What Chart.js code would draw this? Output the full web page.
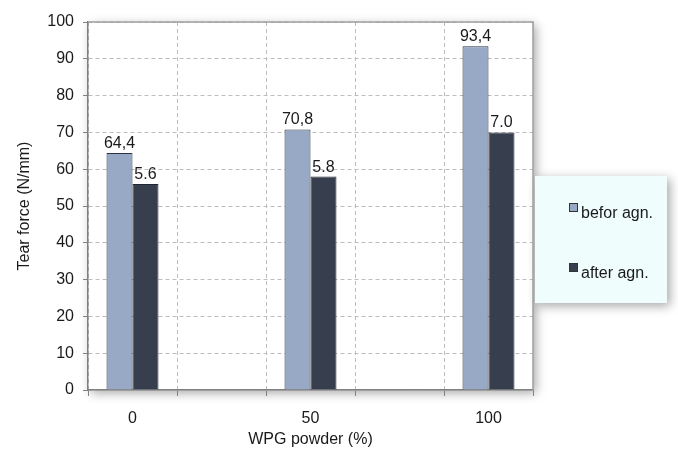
<!DOCTYPE html>
<html>
<head>
<meta charset="utf-8">
<script src="https://cdn.jsdelivr.net/npm/chart.js@4.4.1/dist/chart.umd.min.js"></script>
<style>
  html, body { margin: 0; padding: 0; background: #fff; }
  #wrap { width: 678px; height: 454px; }
</style>
</head>
<body>
<div id="wrap"><canvas id="tearChart" width="678" height="454"></canvas></div>
<script>
// values
var powder = ['0', '50', '100'];
var beforeAgn = [64.4, 70.8, 93.4];
var afterAgn = [56, 58, 70];
// labels as printed above the bars
var beforeText = ['64,4', '70,8', '93,4'];
var afterText = ['5.6', '5.8', '7.0'];
var seriesNames = ['befor agn.', 'after agn.'];

// put an empty slot between the categories, so the grid falls like the original
function spread(arr, blank) {
  var out = [];
  arr.forEach(function(v, i) {
    if (i > 0) out.push(blank);
    out.push(v);
  });
  return out;
}

var colBefore = '#97a9c5';
var colAfter = '#373f4f';
var txtCol = '#1a1a1a';
var fontName = '"Liberation Sans", Arial, sans-serif';

// white plot box and legend box with soft shadow
var backdrop = {
  id: 'backdrop',
  beforeDraw: function(chart) {
    var ctx = chart.ctx, a = chart.chartArea;
    ctx.save();
    ctx.fillStyle = '#fff';
    ctx.fillRect(0, 0, chart.width, chart.height);
    ctx.shadowColor = 'rgba(0,0,0,0.35)';
    ctx.shadowBlur = 10;
    ctx.shadowOffsetX = 3;
    ctx.shadowOffsetY = 3;
    ctx.fillRect(a.left, a.top, a.right - a.left, a.bottom - a.top);
    ctx.fillStyle = '#effdfd';
    ctx.fillRect(535, 176, 132, 127);
    ctx.restore();

    // legend
    ctx.save();
    ctx.font = '16px ' + fontName;
    ctx.textBaseline = 'alphabetic';
    var rows = [{ y: 218, c: colBefore }, { y: 278, c: colAfter }];
    chart.data.datasets.forEach(function(ds, i) {
      var r = rows[i];
      ctx.fillStyle = r.c;
      ctx.fillRect(569.5, r.y - 14.5, 8, 8);
      ctx.strokeStyle = '#333';
      ctx.lineWidth = 1;
      ctx.strokeRect(569.5, r.y - 14.5, 8, 8);
      ctx.fillStyle = txtCol;
      ctx.fillText(ds.label, 581, r.y);
    });
    ctx.restore();
  },
  beforeDatasetsDraw: function(chart) {
    var ctx = chart.ctx, a = chart.chartArea;
    ctx.save();
    ctx.strokeStyle = '#a0a0a0';
    ctx.lineWidth = 1.5;
    ctx.beginPath();
    ctx.moveTo(a.left, a.top);
    ctx.lineTo(a.right, a.top);
    ctx.lineTo(a.right, a.bottom);
    ctx.stroke();
    ctx.restore();
  }
};

// numbers printed over the bars
var barText = {
  id: 'barText',
  afterDatasetsDraw: function(chart) {
    var ctx = chart.ctx;
    var texts = [spread(beforeText, null), spread(afterText, null)];
    ctx.save();
    ctx.font = '16px ' + fontName;
    ctx.fillStyle = txtCol;
    ctx.textAlign = 'center';
    ctx.textBaseline = 'alphabetic';
    chart.data.datasets.forEach(function(ds, i) {
      chart.getDatasetMeta(i).data.forEach(function(bar, j) {
        if (texts[i][j] == null) return;
        ctx.fillText(texts[i][j], bar.x, bar.y - 5);
      });
    });
    ctx.restore();
  }
};

var ctx = document.getElementById('tearChart').getContext('2d');
var tearChart = new Chart(ctx, {
  type: 'bar',
  data: {
    labels: spread(powder, ''),
    datasets: [{
      label: seriesNames[0],
      data: spread(beforeAgn, null),
      backgroundColor: colBefore,
      borderColor: '#2c3240',
      borderWidth: 1
    }, {
      label: seriesNames[1],
      data: spread(afterAgn, null),
      backgroundColor: colAfter,
      borderColor: '#20252f',
      borderWidth: 1
    }]
  },
  options: {
    responsive: false,
    animation: false,
    layout: { padding: { top: 22, right: 145, left: 0, bottom: 0 } },
    datasets: { bar: { barPercentage: 1, categoryPercentage: 0.584 } },
    plugins: {
      legend: { display: false },
      tooltip: { enabled: false }
    },
    scales: {
      x: {
        offset: true,
        grid: {
          offset: true,
          color: '#bdbdbd',
          tickColor: '#808080',
          tickLength: 6,
          tickBorderDash: []
        },
        border: { display: true, color: '#808080', width: 1.5, dash: [4, 3] },
        ticks: { color: txtCol, font: { family: fontName, size: 16 }, padding: 13, maxRotation: 0 },
        title: {
          display: true,
          text: 'WPG powder (%)',
          color: txtCol,
          font: { family: fontName, size: 16 },
          padding: { top: 0, bottom: 5 }
        },
        afterFit: function(scale) { scale.height = 64; }
      },
      y: {
        min: 0,
        max: 100,
        ticks: { stepSize: 10, color: txtCol, font: { family: fontName, size: 16 }, padding: 9 },
        grid: {
          color: '#bdbdbd',
          tickColor: '#808080',
          tickLength: 5,
          tickBorderDash: []
        },
        border: { display: true, color: '#808080', width: 1.5, dash: [4, 3] },
        title: {
          display: true,
          text: 'Tear force (N/mm)',
          color: txtCol,
          font: { family: fontName, size: 16 },
          padding: { top: 15, bottom: 0 }
        },
        afterFit: function(scale) { scale.width = 88; }
      }
    }
  },
  plugins: [backdrop, barText]
});
</script>
</body>
</html>
